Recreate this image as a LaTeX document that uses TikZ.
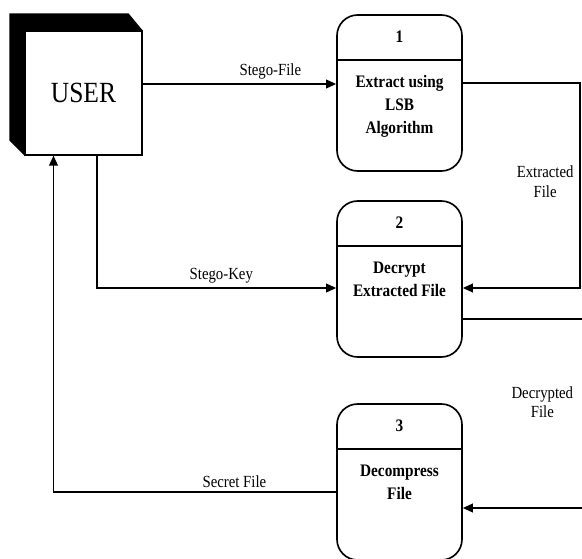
\documentclass[tikz,border=0pt]{standalone}
\usepackage{fontspec}
\setmainfont[FakeStretch=0.87]{Liberation Serif}
\usetikzlibrary{arrows.meta, positioning, backgrounds}
\tikzset{
  >={Triangle[length=3mm, width=2.6mm]},
  proc/.style={rectangle, rounded corners=0.62cm, draw, line width=1.4pt,
               minimum width=3.75cm, minimum height=4.68cm, inner sep=0pt},
  ent/.style={rectangle, draw, line width=1pt, fill=white,
              minimum width=3.51cm, minimum height=3.72cm, font=\fontsize{25}{27}\selectfont},
  pnum/.style={font=\fontsize{15}{17}\selectfont\bfseries},
  ptext/.style={align=center, anchor=north, font=\fontsize{15}{19.5}\selectfont\bfseries},
  divline/.style={line width=1.4pt},
  flow/.style={->, line width=1.4pt},
  lbl/.style={font=\fontsize{14.5}{17}\selectfont, align=center},
}
\begin{document}
\begin{tikzpicture}[x=0.03cm, y=-0.03cm]
  \useasboundingbox (0,0) rectangle (582,559);
  \clip (0,0) rectangle (582,559);
  % external entity
  \node[ent] (user) at (83.5,93) {USER};
  \begin{scope}[on background layer]
    \fill ([shift={(-15,-17)}]user.north west) -- ([shift={(-14,-17)}]user.north east)
      -- (user.north east) -- (user.south west) -- ([shift={(-15,-15)}]user.south west) -- cycle;
  \end{scope}
  % processes
  \node[proc] (p1) at (399.5,93) {};
  \node[proc] (p2) at (399.5,279) {};
  \node[proc] (p3) at (399.5,482) {};
  \foreach \p/\n in {p1/1, p2/2, p3/3}{
    \node[pnum] (\p num) at ([yshift=-.69cm]\p.north) {\n};
    \draw[divline] ([yshift=-1.38cm]\p.north west) -- ([yshift=-1.38cm]\p.north east);
  }
  \node[ptext] (p1txt) at ([yshift=-1.72cm]p1.north) {Extract using\\LSB\\Algorithm};
  \node[ptext] (p2txt) at ([yshift=-1.72cm]p2.north) {Decrypt\\Extracted File};
  \node[ptext] (p3txt) at ([yshift=-1.72cm]p3.north) {Decompress\\File};
  % data flows
  \draw[flow] ([yshift=.27cm]user.east) coordinate (sf) -- (sf -| p1.west)
    node[lbl, above, pos=.66] {Stego-File};
  \draw[flow] ([xshift=.4cm]user.south) |- ([yshift=-.27cm]p2.west)
    node[lbl, above, pos=.76] {Stego-Key};
  \draw[flow] ([yshift=-.3cm]p3.west) -| ([xshift=-.9cm]user.south)
    node[lbl, above, pos=.18] {Secret File};
  \draw[flow] ([yshift=.3cm]p1.east) -- ++(3.51cm,0) coordinate (ef)
    |- ([yshift=-.27cm]p2.east) node[lbl, left, pos=.24, xshift=-.05cm] {Extracted\\File};
  \draw[flow] ([yshift=-1.2cm]p2.east) -- ++(3.75cm,0) coordinate (df)
    |- ([yshift=-.78cm]p3.east) node[lbl, left, pos=.22, xshift=-.3cm] {Decrypted\\File};
\end{tikzpicture}
\end{document}
